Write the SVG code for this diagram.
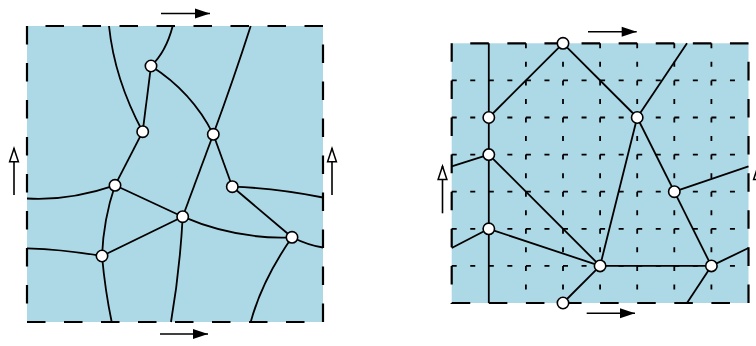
<svg xmlns="http://www.w3.org/2000/svg" width="756" height="346" viewBox="0 0 756 346">
<style>
.cell{fill:#add8e6;stroke:none}
.border{fill:none;stroke:#000;stroke-width:2.2;stroke-dasharray:18.5 18.5}
.border2{fill:none;stroke:#000;stroke-width:2.2;stroke-dasharray:18.55 18.55}
.grid{fill:none;stroke:#000;stroke-width:1.8;stroke-dasharray:5 13.55}
.edge{fill:none;stroke:#000;stroke-width:1.8}
.node{fill:#fff;stroke:#000;stroke-width:1.6}
.arr{fill:none;stroke:#000;stroke-width:1.6}
.fa{marker-end:url(#fill)}
.oa{marker-end:url(#open)}
</style>
<defs>
<marker id="fill" markerUnits="userSpaceOnUse" markerWidth="16" markerHeight="12" viewBox="0 0 16 12" refX="15" refY="6" orient="auto" overflow="visible">
<path d="M0,1 L15,6 L0,11 Z" fill="#000"/>
</marker>
<marker id="open" markerUnits="userSpaceOnUse" markerWidth="16" markerHeight="12" viewBox="0 0 16 12" refX="14" refY="6" orient="auto" overflow="visible">
<path d="M0.5,1.6 L13.8,6 L0.5,10.4 Z" fill="#fff" stroke="#000" stroke-width="1.5"/>
</marker>
</defs>

<g id="panel-left">
<rect class="cell" x="27" y="26" width="296" height="296"/>
<path class="border" d="M27,322 H323 V26 H27 Z"/>
</g>
<g id="panel-right">
<rect class="cell" x="451.7" y="43.3" width="296.8" height="259.7"/>
<g id="grid">
<path class="grid" d="M451.7,80.4 H748.5 M451.7,117.5 H748.5 M451.7,154.6 H748.5 M451.7,191.7 H748.5 M451.7,228.8 H748.5 M451.7,265.9 H748.5"/>
<path class="grid" d="M525.9,43.3 V303 M563,43.3 V303 M600.1,43.3 V303 M637.2,43.3 V303 M674.3,43.3 V303 M711.4,43.3 V303"/>
</g>
<path class="border2" d="M451.7,303 H748.5 V43.3 H451.7 Z"/>
</g>

<g id="connectors">
<!-- left panel -->
<path class="edge" d="M172.7,26 Q166,52 151,66"/>
<path class="edge" d="M109,26 Q114.5,79.2 142.7,131.7"/>
<path class="edge" d="M151,66 L142.7,131.7"/>
<path class="edge" d="M151,66 Q191.8,91.8 213.3,134.3"/>
<path class="edge" d="M250.7,26 Q234,78 213.3,134.3"/>
<path class="edge" d="M142.7,131.7 L115,185.3"/>
<path class="edge" d="M213.3,134.3 L182.7,216.7"/>
<path class="edge" d="M213.3,134.3 L232.3,186.7"/>
<path class="edge" d="M27,198.5 Q69,201 115,185.3"/>
<path class="edge" d="M115,185.3 L182.7,216.7"/>
<path class="edge" d="M115,185.3 Q103.5,219.3 102,256"/>
<path class="edge" d="M232.3,186.7 Q275.7,188 323,197.5"/>
<path class="edge" d="M232.3,186.7 L292,237.3"/>
<path class="edge" d="M182.7,216.7 L102,256"/>
<path class="edge" d="M182.7,216.7 Q236,239.7 292,237.3"/>
<path class="edge" d="M182.7,216.7 Q179.8,270.7 171,322"/>
<path class="edge" d="M27,248.3 Q62.1,249.2 102,256"/>
<path class="edge" d="M102,256 Q105.2,291 111.7,322"/>
<path class="edge" d="M292,237.3 Q309.1,245.7 323,247.5"/>
<path class="edge" d="M292,237.3 Q262,280.3 250.7,322"/>
<!-- right panel -->
<path class="edge" d="M488.8,43.3 V303"/>
<path class="edge" d="M563,43.3 L488.8,117.5"/>
<path class="edge" d="M563,43.3 L637.2,117.5"/>
<path class="edge" d="M637.2,117.5 L687,43.3"/>
<path class="edge" d="M488.8,154.6 L451.7,166.3"/>
<path class="edge" d="M488.8,154.6 L600.1,265.9"/>
<path class="edge" d="M488.8,228.8 L451.7,248"/>
<path class="edge" d="M488.8,228.8 L600.1,265.9"/>
<path class="edge" d="M637.2,117.5 L600.1,265.9"/>
<path class="edge" d="M637.2,117.5 L674.3,191.7"/>
<path class="edge" d="M674.3,191.7 L748.5,166.3"/>
<path class="edge" d="M674.3,191.7 L711.4,265.9"/>
<path class="edge" d="M600.1,265.9 L711.4,265.9"/>
<path class="edge" d="M711.4,265.9 L748.5,248"/>
<path class="edge" d="M711.4,265.9 L687,303"/>
<path class="edge" d="M600.1,265.9 L563,303"/>
<!-- shift arrows -->
<line class="arr fa" x1="161" y1="13.5" x2="210" y2="13.5"/>
<line class="arr fa" x1="160" y1="334" x2="208" y2="334"/>
<line class="arr oa" x1="14" y1="195" x2="14" y2="148.3"/>
<line class="arr oa" x1="332" y1="195" x2="332" y2="148.3"/>
<line class="arr fa" x1="588" y1="31.7" x2="636.7" y2="31.7"/>
<line class="arr fa" x1="586.7" y1="313.3" x2="635" y2="313.3"/>
<line class="arr oa" x1="442.5" y1="213.3" x2="442.5" y2="166"/>
<line class="arr oa" x1="758" y1="213.3" x2="758" y2="166"/>
</g>

<g id="nodeA"><circle class="node" cx="151" cy="66" r="5.7"/></g>
<g id="nodeB"><circle class="node" cx="142.7" cy="131.7" r="5.7"/></g>
<g id="nodeC"><circle class="node" cx="213.3" cy="134.3" r="5.7"/></g>
<g id="nodeD"><circle class="node" cx="115" cy="185.3" r="5.7"/></g>
<g id="nodeE"><circle class="node" cx="232.3" cy="186.7" r="5.7"/></g>
<g id="nodeF"><circle class="node" cx="182.7" cy="216.7" r="5.7"/></g>
<g id="nodeG"><circle class="node" cx="102" cy="256" r="5.7"/></g>
<g id="nodeH"><circle class="node" cx="292" cy="237.3" r="5.7"/></g>

<g id="nodeP1"><circle class="node" cx="563" cy="43.3" r="5.7"/></g>
<g id="nodeP2"><circle class="node" cx="488.8" cy="117.5" r="5.7"/></g>
<g id="nodeP3"><circle class="node" cx="637.2" cy="117.5" r="5.7"/></g>
<g id="nodeP4"><circle class="node" cx="488.8" cy="154.6" r="5.7"/></g>
<g id="nodeP5"><circle class="node" cx="674.3" cy="191.7" r="5.7"/></g>
<g id="nodeP6"><circle class="node" cx="488.8" cy="228.8" r="5.7"/></g>
<g id="nodeP7"><circle class="node" cx="600.1" cy="265.9" r="5.7"/></g>
<g id="nodeP8"><circle class="node" cx="711.4" cy="265.9" r="5.7"/></g>
<g id="nodeP9"><circle class="node" cx="563" cy="303" r="5.7"/></g>
</svg>
